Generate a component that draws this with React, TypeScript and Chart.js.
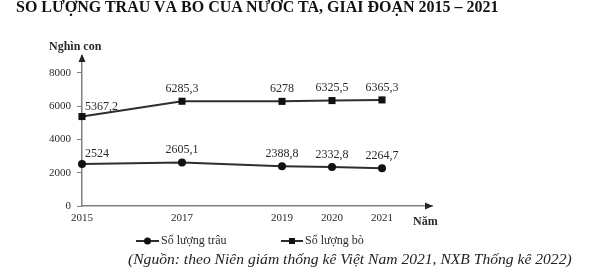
import React, { useEffect, useRef } from "react";
import { Chart, registerables } from "chart.js";

Chart.register(...registerables);

const years = [2015, 2017, 2019, 2020, 2021];
const buffalo = [2524, 2605.1, 2388.8, 2332.8, 2264.7];
const cattle = [5367.2, 6285.3, 6278, 6325.5, 6365.3];
const yTicks = [0, 2000, 4000, 6000, 8000];
const xTicks = years;
const seriesNames = ["Số lượng trâu", "Số lượng bò"];
const titleText = "SỐ LƯỢNG TRÂU VÀ BÒ CỦA NƯỚC TA, GIAI ĐOẠN 2015 – 2021";
const sourceText = "(Nguồn: theo Niên giám thống kê Việt Nam 2021, NXB Thống kê 2022)";
const yAxisTitle = "Nghìn con";
const xAxisTitle = "Năm";

const SERIF = "'Liberation Serif', 'DejaVu Serif', serif";
const LINE = "#2e2e2e";
const AXIS = "#808080";
const TEXT = "#2a2a2a";

const fmt = (v: number) => String(v).replace(".", ",");

const overlayPlugin = {
  id: "overlay",
  afterDraw(chart: any) {
    const ctx = chart.ctx as CanvasRenderingContext2D;
    const { left, right, top, bottom } = chart.chartArea;
    ctx.save();
    // arrows
    ctx.fillStyle = "#222";
    ctx.beginPath();
    ctx.moveTo(left, top - 2);
    ctx.lineTo(left - 3.5, top + 6);
    ctx.lineTo(left + 3.5, top + 6);
    ctx.closePath();
    ctx.fill();
    ctx.beginPath();
    ctx.moveTo(right + 1, bottom);
    ctx.lineTo(right - 7, bottom - 3.5);
    ctx.lineTo(right - 7, bottom + 3.5);
    ctx.closePath();
    ctx.fill();

    // axis titles
    ctx.fillStyle = TEXT;
    ctx.font = `bold 12px ${SERIF}`;
    ctx.textBaseline = "middle";
    ctx.textAlign = "left";
    ctx.fillText(yAxisTitle, 49, 47);
    ctx.fillText(xAxisTitle, 413, 222);

    // data labels
    ctx.font = `12px ${SERIF}`;
    ctx.fillStyle = TEXT;
    chart.data.datasets.forEach((ds: any, i: number) => {
      const meta = chart.getDatasetMeta(i);
      meta.data.forEach((pt: any, j: number) => {
        const v = ds.data[j].y;
        if (j === 0) {
          ctx.textAlign = "left";
          ctx.fillText(fmt(v), pt.x + 3, pt.y - 10);
        } else {
          ctx.textAlign = "center";
          ctx.fillText(fmt(v), pt.x, pt.y - 12.5);
        }
      });
    });

    // legend
    const items = [
      { x0: 136, x1: 159, style: "circle", label: seriesNames[0] },
      { x0: 281, x1: 303, style: "rect", label: seriesNames[1] },
    ];
    const ly = 241;
    ctx.font = `12px ${SERIF}`;
    ctx.textAlign = "left";
    items.forEach((it) => {
      ctx.strokeStyle = LINE;
      ctx.lineWidth = 2;
      ctx.beginPath();
      ctx.moveTo(it.x0, ly);
      ctx.lineTo(it.x1, ly);
      ctx.stroke();
      const cx = (it.x0 + it.x1) / 2;
      ctx.fillStyle = "#111";
      if (it.style === "circle") {
        ctx.beginPath();
        ctx.arc(cx, ly, 3.5, 0, Math.PI * 2);
        ctx.fill();
      } else {
        ctx.fillRect(cx - 3, ly - 3, 6, 6);
      }
      ctx.fillStyle = TEXT;
      ctx.fillText(it.label, it.x1 + 2, ly);
    });
    ctx.restore();
  },
};

export default function App() {
  const ref = useRef<HTMLCanvasElement | null>(null);
  useEffect(() => {
    if (!ref.current) return;
    const chart = new Chart(ref.current, {
      type: "line",
      data: {
        datasets: [
          {
            label: seriesNames[0],
            data: years.map((x, i) => ({ x, y: buffalo[i] })),
            borderColor: LINE,
            borderWidth: 2,
            pointStyle: "circle",
            pointRadius: 4,
            pointBackgroundColor: "#111",
            pointBorderWidth: 0,
            tension: 0,
            clip: false as any,
          },
          {
            label: seriesNames[1],
            data: years.map((x, i) => ({ x, y: cattle[i] })),
            borderColor: LINE,
            borderWidth: 2,
            pointStyle: "rect",
            pointRadius: 5,
            pointBackgroundColor: "#111",
            pointBorderWidth: 0,
            tension: 0,
            clip: false as any,
          },
        ],
      },
      options: {
        animation: false,
        responsive: false,
        layout: { padding: { left: 0, right: 158, top: 56, bottom: 0 } },
        plugins: {
          legend: { display: false },
          tooltip: { enabled: false },
          title: { display: false },
        },
        scales: {
          x: {
            type: "linear",
            min: 2015,
            max: 2022,
            afterBuildTicks: (s: any) => {
              s.ticks = xTicks.map((v) => ({ value: v }));
            },
            afterFit: (s: any) => {
              s.height = 68;
            },
            ticks: {
              callback: (v: any) => String(v),
              font: { family: SERIF, size: 11 },
              color: TEXT,
              padding: 6,
              maxRotation: 0,
              autoSkip: false,
            },
            grid: { display: true, drawOnChartArea: false, drawTicks: false },
            border: { display: true, color: AXIS, width: 1.5 },
          },
          y: {
            type: "linear",
            min: 0,
            max: 9000,
            afterBuildTicks: (s: any) => {
              s.ticks = yTicks.map((v) => ({ value: v }));
            },
            afterFit: (s: any) => {
              s.width = 82;
            },
            ticks: {
              callback: (v: any) => String(v),
              font: { family: SERIF, size: 11 },
              color: TEXT,
              padding: 6,
            },
            grid: {
              display: true,
              drawOnChartArea: false,
              drawTicks: true,
              tickLength: 5,
              color: AXIS,
              lineWidth: 1,
            },
            border: { display: true, color: AXIS, width: 1.5 },
          },
        },
      },
      plugins: [overlayPlugin],
    });
    return () => chart.destroy();
  }, []);

  return (
    <div style={{ position: "absolute", left: 0, top: 0, width: 590, height: 274, background: "#fff", overflow: "hidden" }}>
      <canvas ref={ref} width={590} height={274} style={{ position: "absolute", left: 0, top: 0 }} />
      <div
        style={{
          position: "absolute",
          left: 16,
          top: -1,
          fontFamily: SERIF,
          fontWeight: "bold",
          fontSize: 16,
          lineHeight: "16px",
          whiteSpace: "nowrap",
          color: "#111",
        }}
      >
        {titleText}
      </div>
      <div
        style={{
          position: "absolute",
          left: 128,
          top: 251,
          fontFamily: SERIF,
          fontStyle: "italic",
          fontSize: 15.6,
          lineHeight: "16px",
          whiteSpace: "nowrap",
          color: "#222",
        }}
      >
        {sourceText}
      </div>
    </div>
  );
}
